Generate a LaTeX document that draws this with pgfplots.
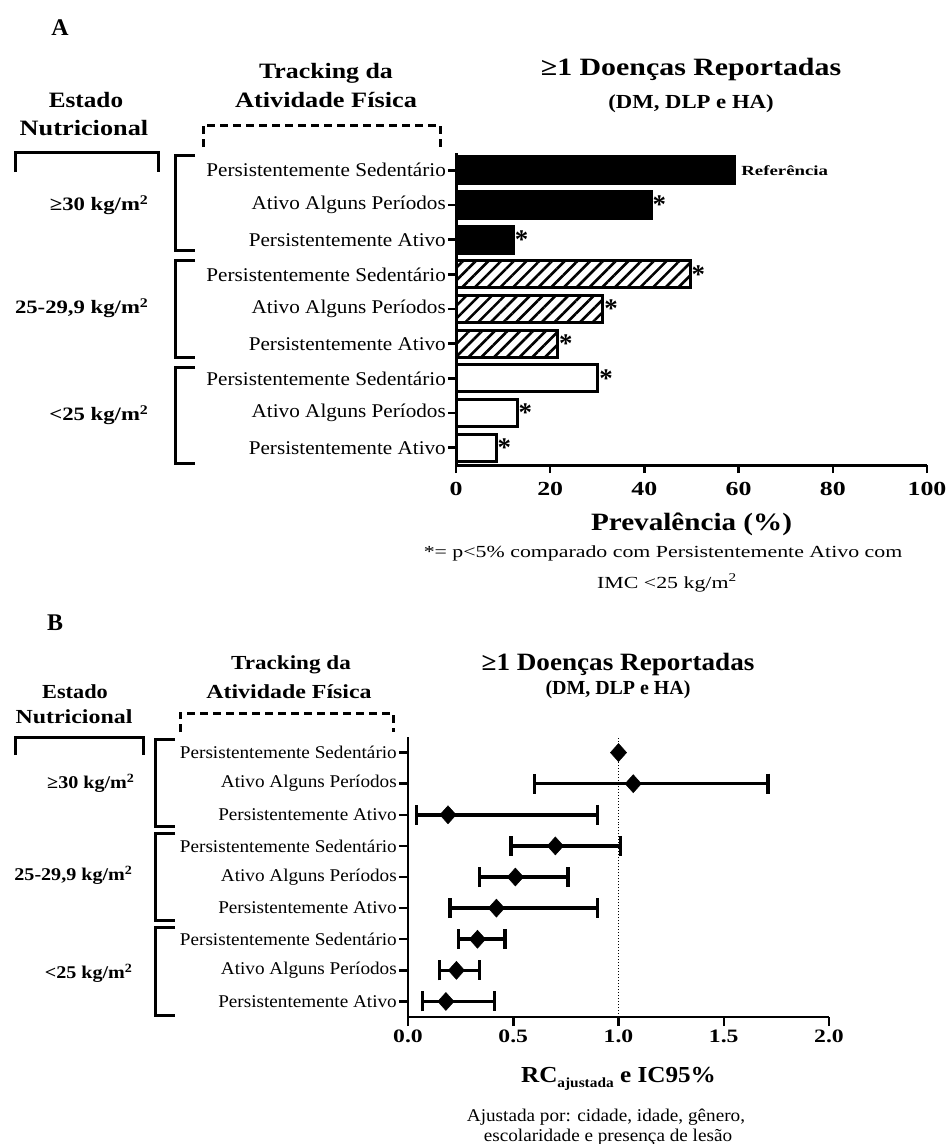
\documentclass[border=0pt]{standalone}
\usepackage{pgfplots}
\pgfplotsset{compat=1.18}
\usepackage{pgfplotstable}
\usepackage{graphicx}
\usepackage{fontspec}
\setmainfont{Liberation Serif}
\usetikzlibrary{patterns.meta}

\newcommand\fs[1]{\fontsize{#1}{#1}\selectfont}
\newcommand\sx[2]{\scalebox{#1}[1]{#2}}
\newcommand\la[1]{\scalebox{1.09}[1]{#1}}
\newcommand\lb[1]{\scalebox{1.07}[1]{#1}}
\protected\def\Sm{\raisebox{-8bp}{\fs{27}\bfseries *}}
\protected\def\Rf{\hspace{5bp}\scalebox{1.35}[1]{\fs{14}\bfseries Referência}}

\pgfplotstableread{
x y lo hi
1.07 7 0.60 1.71
0.19 6 0.04 0.90
0.70 5 0.49 1.01
0.51 4 0.34 0.76
0.42 3 0.20 0.90
0.33 2 0.24 0.46
0.23 1 0.15 0.34
0.18 0 0.07 0.41
}\dataB

\begin{document}
\begin{tikzpicture}[x=1bp,y=1bp]
\path[use as bounding box] (0,0) rectangle (947,-1144);

% ================= Panel A =================
\node[font=\fs{24}\bfseries] at (60,-28) {A};
\node[font=\fs{22}\bfseries] at (326,-73) {\sx{1.18}{Tracking da}};
\node[font=\fs{22}\bfseries] at (326,-100) {\sx{1.2}{Atividade Física}};
\node[font=\fs{22}\bfseries] at (86,-100) {\sx{1.15}{Estado}};
\node[font=\fs{22}\bfseries] at (84,-128) {\sx{1.2}{Nutricional}};
\node[font=\fs{25}\bfseries] at (691,-70) {\sx{1.2}{≥1 Doenças Reportadas}};
\node[font=\fs{20}\bfseries] at (691,-104) {\sx{1.14}{(DM, DLP e HA)}};

\draw[line width=3bp] (15,-172) -- (15,-152) -- (158,-152) -- (158,-172);
\draw[line width=3bp, dash pattern=on 8bp off 5bp] (203,-147) -- (203,-125) -- (440,-125) -- (440,-147);
\draw[line width=3bp] (195,-155) -- (175,-155) -- (175,-250) -- (195,-250);
\draw[line width=3bp] (195,-260) -- (175,-260) -- (175,-357) -- (195,-357);
\draw[line width=3bp] (195,-367) -- (175,-367) -- (175,-463) -- (195,-463);

\node[anchor=east, font=\fs{19}\bfseries] at (152,-205) {\sx{1.2}{≥30 kg/m\textsuperscript{2}}};
\node[anchor=east, font=\fs{19}\bfseries] at (152,-308) {\sx{1.2}{25-29,9 kg/m\textsuperscript{2}}};
\node[anchor=east, font=\fs{19}\bfseries] at (152,-415) {\sx{1.2}{<25 kg/m\textsuperscript{2}}};

\begin{axis}[
  at={(456bp,-153bp)}, anchor=north west, scale only axis,
  width=471bp, height=312bp,
  xmin=0, xmax=100, ymin=-0.5, ymax=8.5,
  axis x line*=bottom, axis y line*=left,
  axis line style={line width=3bp, -},
  xtick={0,20,40,60,80,100}, ytick={0,...,8},
  yticklabels={\la{Persistentemente Ativo},\la{Ativo Alguns Períodos},\la{Persistentemente Sedentário},
               \la{Persistentemente Ativo},\la{Ativo Alguns Períodos},\la{Persistentemente Sedentário},
               \la{Persistentemente Ativo},\la{Ativo Alguns Períodos},\la{Persistentemente Sedentário}},
  tick align=outside, major tick length=8bp,
  every tick/.style={line width=2.5bp, black},
  /pgf/number format/assume math mode=true,
  xticklabel={\sx{1.3}{\pgfmathprintnumber{\tick}}},
  xticklabel style={font=\fs{20}\bfseries, yshift=-6bp},
  yticklabel style={font=\fs{19.5}, inner sep=2bp},
  xlabel={\sx{1.17}{Prevalência (\%)}},
  xlabel style={font=\fs{25}\bfseries, yshift=-10bp},
  clip=false,
]
\addplot[xbar, bar shift=0pt, bar width=27bp, fill=black, draw=black, line width=3bp,
  point meta=explicit symbolic, nodes near coords={\pgfplotspointmeta},
  nodes near coords align=horizontal,
  every node near coord/.style={inner sep=1.5bp, anchor=west, line width=0pt}]
  coordinates {(59.2,8) [\Rf] (41.4,7) [\Sm] (12.2,6) [\Sm]};
\addplot[xbar, bar shift=0pt, bar width=27bp, fill=white, draw=black, line width=3bp,
  postaction={pattern={Lines[angle=45,distance=9bp,line width=2.6bp]}, pattern color=black},
  point meta=explicit symbolic, nodes near coords={\pgfplotspointmeta},
  nodes near coords align=horizontal,
  every node near coord/.style={inner sep=1.5bp, anchor=west, line width=0pt}]
  coordinates {(49.7,5) [\Sm] (31.2,4) [\Sm] (21.6,3) [\Sm]};
\addplot[xbar, bar shift=0pt, bar width=27bp, fill=white, draw=black, line width=3bp,
  point meta=explicit symbolic, nodes near coords={\pgfplotspointmeta},
  nodes near coords align=horizontal,
  every node near coord/.style={inner sep=1.5bp, anchor=west, line width=0pt}]
  coordinates {(30.1,2) [\Sm] (13.0,1) [\Sm] (8.5,0) [\Sm]};
\end{axis}

\node[font=\fs{17}] at (663,-553) {\sx{1.29}{*= p<5\% comparado com Persistentemente Ativo com}};
\node[font=\fs{17}] at (667,-583) {\sx{1.29}{IMC <25 kg/m\textsuperscript{2}}};

% ================= Panel B =================
\node[font=\fs{24}\bfseries] at (55,-623) {B};
\node[font=\fs{20}\bfseries] at (291,-665) {\sx{1.16}{Tracking da}};
\node[font=\fs{20}\bfseries] at (289,-692) {\sx{1.2}{Atividade Física}};
\node[font=\fs{20}\bfseries] at (75,-692) {\sx{1.12}{Estado}};
\node[font=\fs{20}\bfseries] at (74,-717) {\sx{1.2}{Nutricional}};
\node[font=\fs{25}\bfseries] at (618,-665) {\sx{1.09}{≥1 Doenças Reportadas}};
\node[font=\fs{20}\bfseries] at (618,-690) {\sx{1.0}{(DM, DLP e HA)}};

\draw[line width=3bp] (15,-755) -- (15,-737) -- (143,-737) -- (143,-755);
\draw[line width=3bp, dash pattern=on 8bp off 5bp] (180,-732) -- (180,-713) -- (393,-713) -- (393,-732);
\draw[line width=3bp] (175,-739) -- (155,-739) -- (155,-826) -- (175,-826);
\draw[line width=3bp] (175,-833) -- (155,-833) -- (155,-920) -- (175,-920);
\draw[line width=3bp] (175,-927) -- (155,-927) -- (155,-1015) -- (175,-1015);

\node[anchor=east, font=\fs{18}\bfseries] at (138,-783) {\sx{1.12}{≥30 kg/m\textsuperscript{2}}};
\node[anchor=east, font=\fs{18}\bfseries] at (136,-875) {\sx{1.12}{25-29,9 kg/m\textsuperscript{2}}};
\node[anchor=east, font=\fs{18}\bfseries] at (136,-973) {\sx{1.12}{<25 kg/m\textsuperscript{2}}};

\begin{axis}[
  at={(408bp,-737bp)}, anchor=north west, scale only axis,
  width=421bp, height=280bp,
  xmin=0, xmax=2, ymin=-0.5, ymax=8.5,
  axis x line*=bottom, axis y line*=left,
  axis line style={line width=2.5bp, -},
  xtick={0,0.5,1,1.5,2}, ytick={0,...,8},
  yticklabels={\lb{Persistentemente Ativo},\lb{Ativo Alguns Períodos},\lb{Persistentemente Sedentário},
               \lb{Persistentemente Ativo},\lb{Ativo Alguns Períodos},\lb{Persistentemente Sedentário},
               \lb{Persistentemente Ativo},\lb{Ativo Alguns Períodos},\lb{Persistentemente Sedentário}},
  tick align=outside, major tick length=9bp,
  every tick/.style={line width=2.5bp, black},
  /pgf/number format/assume math mode=true,
  xticklabel={\sx{1.25}{\pgfmathprintnumber[fixed,fixed zerofill,precision=1]{\tick}}},
  xticklabel style={font=\fs{19}\bfseries},
  yticklabel style={font=\fs{18}, inner sep=2bp},
  xlabel={\sx{1.1}{RC\raisebox{-5bp}{\fs{14}ajustada} e IC95\%}},
  xlabel style={font=\fs{23}\bfseries, yshift=-18bp},
  clip=false,
]
\addplot[black, line width=1bp, dotted] coordinates {(1,-0.5) (1,8.5)};
\addplot[only marks, black, mark=diamond*, mark size=9bp,
  mark options={xscale=1.2, line width=0.5bp, fill=black},
  error bars/.cd, x dir=both, x explicit, error mark=|,
  error bar style={line width=3.5bp, black},
  error mark options={line width=3.5bp, mark size=10bp, black}]
  table[x=x, y=y, x error plus expr=\thisrow{hi}-\thisrow{x}, x error minus expr=\thisrow{x}-\thisrow{lo}] {\dataB};
\addplot[only marks, black, mark=diamond*, mark size=9bp,
  mark options={xscale=1.2, line width=0.5bp, fill=black}]
  coordinates {(1.00,8)};
\end{axis}

\node[font=\fs{18}] at (606,-1117) {\sx{1.07}{Ajustada por: cidade, idade, gênero,}};
\node[font=\fs{18}] at (608,-1137) {\sx{1.07}{escolaridade e presença de lesão}};
\end{tikzpicture}
\end{document}
